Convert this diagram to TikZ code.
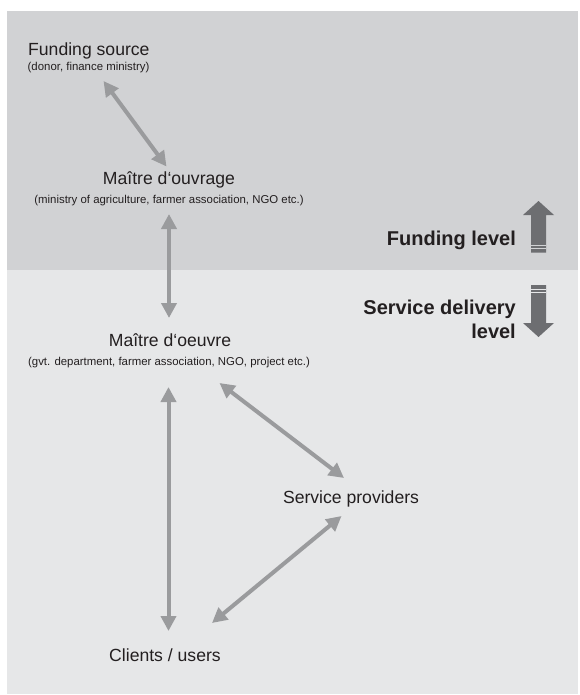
\documentclass[tikz,border=0pt]{standalone}
\usepackage{fontspec}
\setmainfont{Liberation Sans}
\usetikzlibrary{arrows.meta}
\definecolor{topgray}{HTML}{D1D2D4}
\definecolor{botgray}{HTML}{E6E7E8}
\definecolor{conncol}{HTML}{9A9B9D}
\definecolor{bigcol}{HTML}{6D6E71}
\definecolor{txt}{HTML}{231F20}
\begin{document}
\begin{tikzpicture}[x=1pt,y=-1pt,
  titlebox/.style={inner sep=0pt, text=txt, font=\fontsize{17.6}{20}\selectfont},
  subbox/.style={inner sep=0pt, text=txt, font=\fontsize{11.4}{13}\selectfont},
  levelbox/.style={inner sep=0pt, text=txt, font=\bfseries\fontsize{20}{24}\selectfont},
  connector/.style={draw=conncol, line width=4pt,
    {Triangle[length=15pt,width=15pt]}-{Triangle[length=15pt,width=15pt]}},
  bigarrow/.style={fill=bigcol, draw=none}]
\useasboundingbox (0,0) rectangle (579,695);
% panels
\fill[topgray] (7,11) rectangle (578,270);
\fill[botgray] (7,270) rectangle (578,694);

% texts
\node[titlebox, anchor=base west] (fs) at (28,55.5) {Funding source};
\node[subbox, anchor=base west] (fssub) at (27.5,71) {(donor, finance ministry)};
\node[titlebox, anchor=base] (mo) at (169,184) {Maître d‘ouvrage};
\node[subbox, anchor=base] (mosub) at (169,203) {(ministry of agriculture, farmer association, NGO etc.)};
\node[titlebox, anchor=base] (me) at (170,346) {Maître d‘oeuvre};
\node[subbox, anchor=base] (mesub) at (169,365) {(gvt. department, farmer association, NGO, project etc.)};
\node[titlebox, anchor=base] (sp) at (351,503) {Service providers};
\node[titlebox, anchor=base] (cu) at (165,661) {Clients / users};
\node[levelbox, anchor=base east] (fl) at (516,245) {Funding level};
\node[levelbox, anchor=base east] (sd) at (516,314) {Service delivery};
\node[levelbox, anchor=base east] (sdl) at (516,338) {level};

% connector end points
\coordinate (c1a) at (103.5,81);
\coordinate (c1b) at (166.5,166.5);
\coordinate (c2a) at (169,214);
\coordinate (c2b) at (169,318);
\coordinate (c3a) at (219.5,383);
\coordinate (c3b) at (344,478);
\coordinate (c4a) at (168.5,387);
\coordinate (c4b) at (168.5,631);
\coordinate (c5a) at (341.5,516);
\coordinate (c5b) at (212,623);

\draw[connector] (c1a) -- (c1b);
\draw[connector] (c2a) -- (c2b);
\draw[connector] (c3a) -- (c3b);
\draw[connector] (c4a) -- (c4b);
\draw[connector] (c5a) -- (c5b);

% level arrows
\fill[bigarrow] (523,215) -- (538.5,201) -- (554,215) -- (546,215) -- (546,252.5) -- (531,252.5) -- (531,215) -- cycle;
\draw[topgray, line width=0.9pt] (531,245) -- (546,245);
\draw[topgray, line width=0.9pt] (531,248.5) -- (546,248.5);
\fill[bigarrow] (531,285) -- (546,285) -- (546,323) -- (554,323) -- (538.5,337) -- (523,323) -- (531,323) -- cycle;
\draw[botgray, line width=0.9pt] (531,289) -- (546,289);
\draw[botgray, line width=0.9pt] (531,292.5) -- (546,292.5);
\end{tikzpicture}
\end{document}
